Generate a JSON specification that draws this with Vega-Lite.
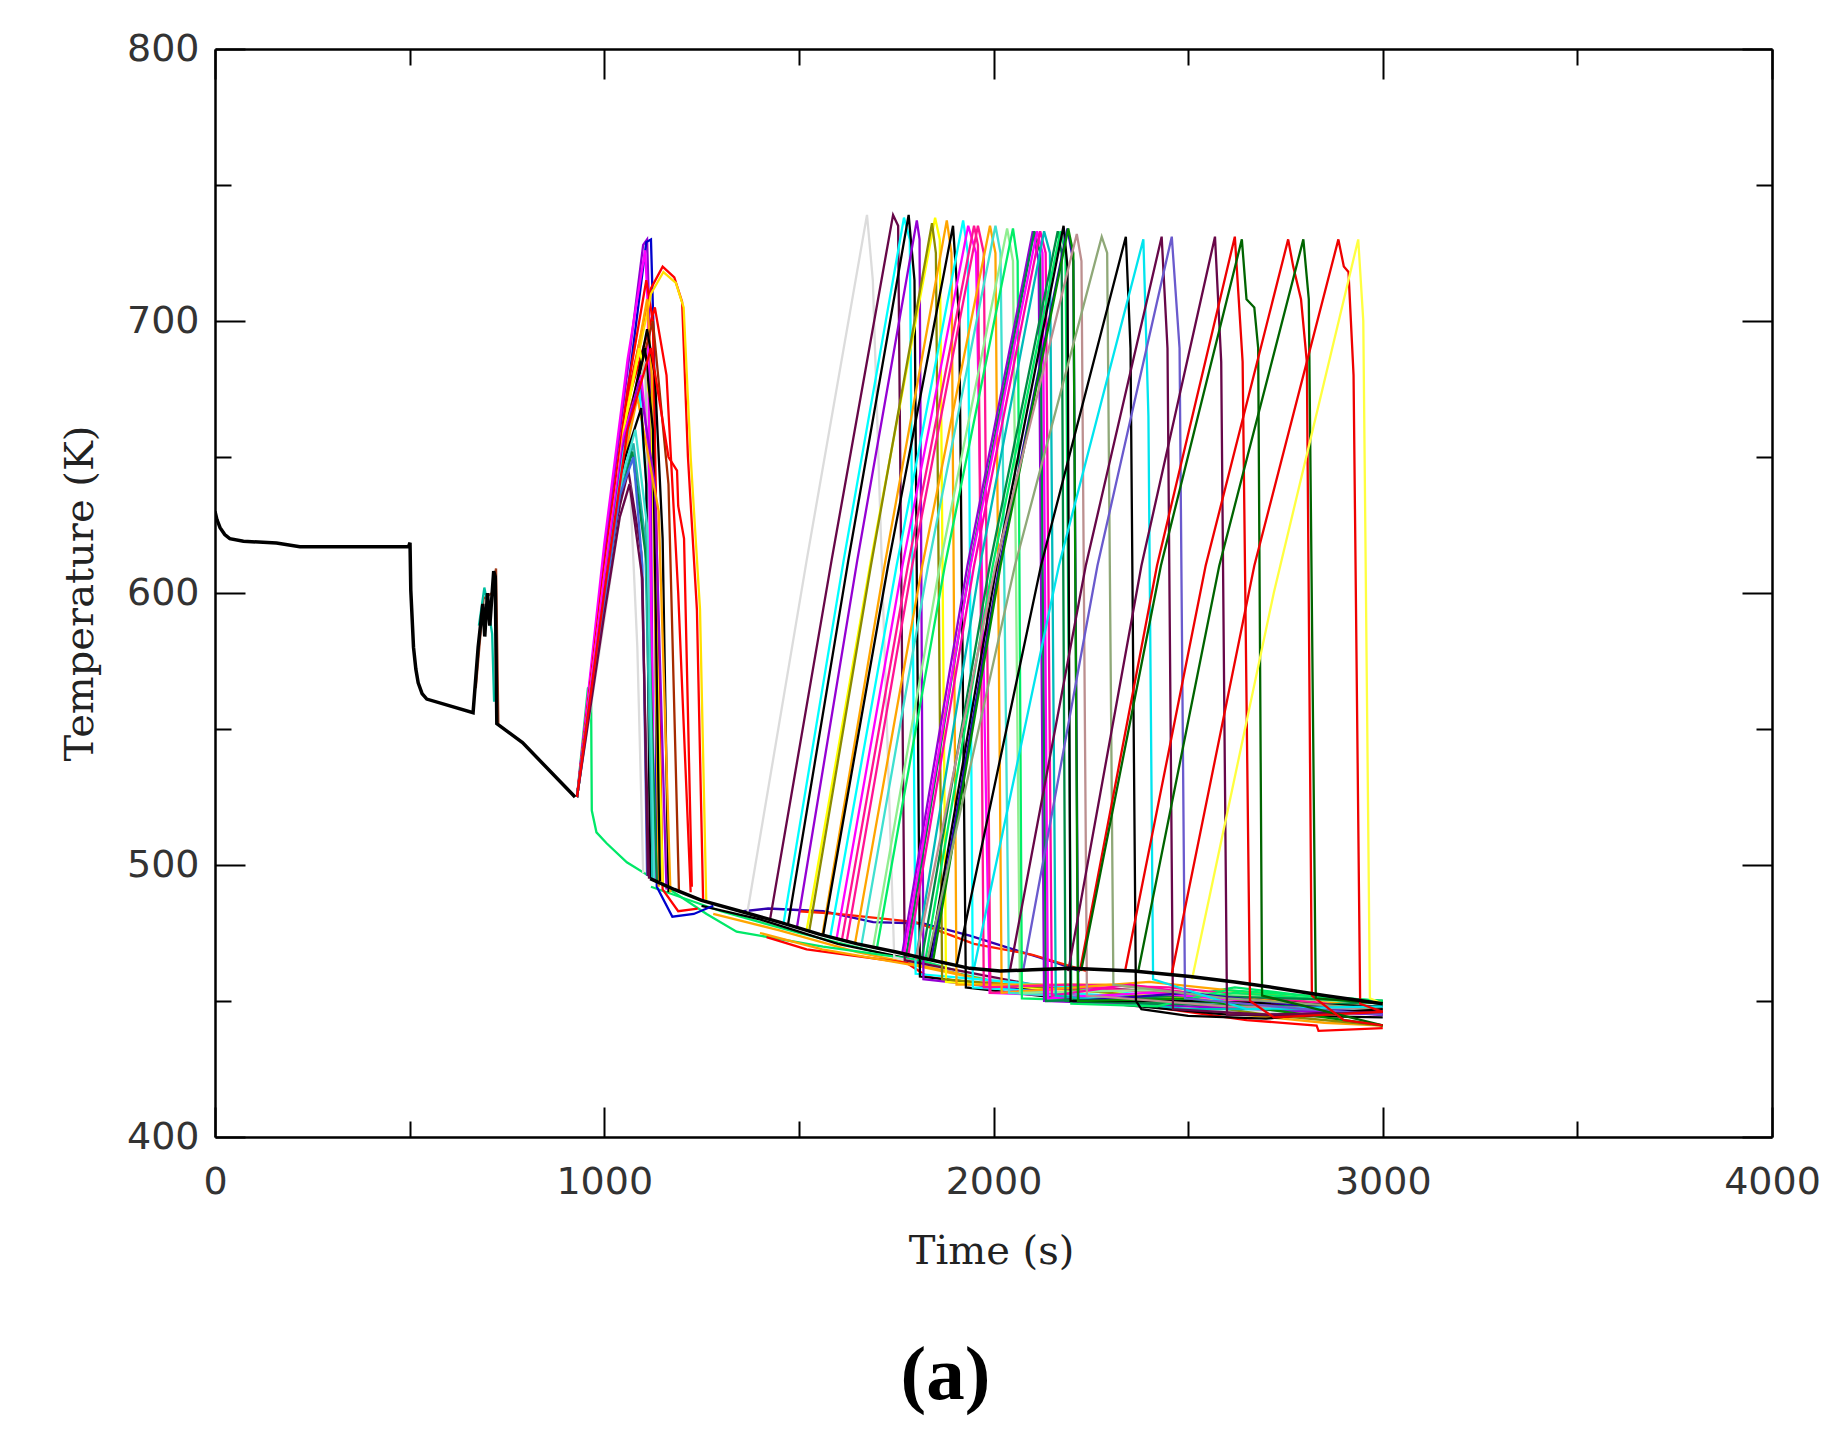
{
"$schema":"https://vega.github.io/schema/vega-lite/v6.json",
"width":1557,"height":1088,
"autosize":"none",
"padding":{"left":215,"top":49,"right":68,"bottom":307},
"background":"white",
"title":{"text":"(a)","orient":"bottom","anchor":"middle","dx":-48,"offset":67,"font":"Liberation Serif","fontWeight":"bold","fontSize":77,"color":"#000000"},
"config":{"view":{"stroke":null},"axis":{"grid":false,"domainColor":"#000000","domainWidth":2.5,"tickColor":"#000000","tickWidth":2,"labelFlush":false,"labelOverlap":false}},
"datasets":{
"frame":[{"t":0,"T":400}],
"base":[
{"s":"core","t":0,"T":630},{"s":"core","t":5,"T":627},{"s":"core","t":13,"T":624},{"s":"core","t":25,"T":621.5},{"s":"core","t":38,"T":620},{"s":"core","t":73,"T":619},{"s":"core","t":158,"T":618.4},{"s":"core","t":218,"T":617},{"s":"core","t":497,"T":617},{"s":"core","t":501,"T":618.5},{"s":"core","t":503,"T":601},{"s":"core","t":510,"T":580},{"s":"core","t":516,"T":572},{"s":"core","t":522,"T":567},{"s":"core","t":532,"T":563},{"s":"core","t":544,"T":561},{"s":"core","t":663,"T":556},{"s":"core","t":676,"T":580},{"s":"core","t":688,"T":596},{"s":"core","t":693,"T":584},{"s":"core","t":700,"T":600},{"s":"core","t":706,"T":588},{"s":"core","t":716,"T":608},{"s":"core","t":720,"T":606},{"s":"core","t":724,"T":552},{"s":"core","t":790,"T":545},{"s":"core","t":925,"T":525},
{"s":"top","t":1118,"T":495},{"s":"top","t":1180,"T":491},{"s":"top","t":1250,"T":487},{"s":"top","t":1350,"T":483},{"s":"top","t":1450,"T":479},{"s":"top","t":1554,"T":474.5},{"s":"top","t":1650,"T":471},{"s":"top","t":1750,"T":468},{"s":"top","t":1811,"T":466},{"s":"top","t":1939,"T":462},{"s":"top","t":2017,"T":461},{"s":"top","t":2100,"T":461.5},{"s":"top","t":2200,"T":462},{"s":"top","t":2360,"T":461},{"s":"top","t":2505,"T":459},{"s":"top","t":2620,"T":457},{"s":"top","t":2718,"T":455},{"s":"top","t":2850,"T":452},{"s":"top","t":3000,"T":449}
],
"runs":[
{"s":"p1","t":670,"T":565},{"s":"p1","t":690,"T":598},{"s":"p1","t":712,"T":600},{"s":"p1","t":722,"T":609},{"s":"p1","t":728,"T":552},
{"s":"p2","t":678,"T":588},{"s":"p2","t":692,"T":602},{"s":"p2","t":700,"T":596},{"s":"p2","t":712,"T":585},{"s":"p2","t":717,"T":560},
{"s":"b1","t":1120,"T":492},{"s":"b1","t":1300,"T":483},{"s":"b1","t":1500,"T":475},{"s":"b1","t":1700,"T":468},{"s":"b1","t":1900,"T":461},
{"s":"b2","t":1250,"T":485},{"s":"b2","t":1400,"T":480},{"s":"b2","t":1600,"T":471},{"s":"b2","t":1800,"T":465},{"s":"b2","t":1950,"T":459},
{"s":"b3","t":1280,"T":482},{"s":"b3","t":1450,"T":476},{"s":"b3","t":1650,"T":468},{"s":"b3","t":1850,"T":462},{"s":"b3","t":2000,"T":457},
{"s":"g1","t":930,"T":525},{"s":"g1","t":958,"T":565},{"s":"g1","t":966,"T":566},{"s":"g1","t":968,"T":520},{"s":"g1","t":980,"T":512},{"s":"g1","t":1006,"T":508},{"s":"g1","t":1058,"T":501},{"s":"g1","t":1126,"T":495},{"s":"g1","t":1263,"T":482},{"s":"g1","t":1340,"T":475.5},{"s":"g1","t":1562,"T":470},{"s":"g1","t":1811,"T":465},{"s":"g1","t":2150,"T":451},{"s":"g1","t":2280,"T":449},{"s":"g1","t":2400,"T":449},{"s":"g1","t":2500,"T":452},{"s":"g1","t":2620,"T":455},{"s":"g1","t":2800,"T":452},{"s":"g1","t":3000,"T":450},
{"s":"h1","t":1357,"T":483},{"s":"h1","t":1421,"T":484},{"s":"h1","t":1562,"T":483},{"s":"h1","t":1691,"T":479},{"s":"h1","t":1819,"T":478.5},{"s":"h1","t":1939,"T":474},{"s":"h1","t":2051,"T":469},{"s":"h1","t":2162,"T":464},{"s":"h1","t":2222,"T":461},
{"s":"h2","t":1500,"T":483},{"s":"h2","t":1600,"T":482},{"s":"h2","t":1800,"T":479},{"s":"h2","t":1950,"T":471},{"s":"h2","t":2100,"T":467},{"s":"h2","t":2240,"T":461},
{"s":"l1","t":1417,"T":473.5},{"s":"l1","t":1520,"T":469},{"s":"l1","t":1777,"T":464},{"s":"l1","t":1830,"T":459},{"s":"l1","t":2000,"T":455},{"s":"l1","t":2300,"T":450},{"s":"l1","t":2650,"T":443},{"s":"l1","t":2830,"T":441},{"s":"l1","t":2835,"T":439},{"s":"l1","t":3000,"T":440},
{"s":"l2","t":1400,"T":475},{"s":"l2","t":1560,"T":469},{"s":"l2","t":1800,"T":463},{"s":"l2","t":2100,"T":454},{"s":"l2","t":2500,"T":447},{"s":"l2","t":2850,"T":442},{"s":"l2","t":3000,"T":441},

{"s":"f01","t":930,"T":525},{"s":"f01","t":1000,"T":614},{"s":"f01","t":1060,"T":682},{"s":"f01","t":1100,"T":728},{"s":"f01","t":1110,"T":730},{"s":"f01","t":1116,"T":700},{"s":"f01","t":1128,"T":495},
{"s":"f02","t":930,"T":525},{"s":"f02","t":1000,"T":606},{"s":"f02","t":1060,"T":674},{"s":"f02","t":1108,"T":729},{"s":"f02","t":1120,"T":730},{"s":"f02","t":1128,"T":690},{"s":"f02","t":1135,"T":492},{"s":"f02","t":1175,"T":481},{"s":"f02","t":1230,"T":482},{"s":"f02","t":1280,"T":485},
{"s":"f03","t":930,"T":525},{"s":"f03","t":1000,"T":618},{"s":"f03","t":1060,"T":686},{"s":"f03","t":1105,"T":726},{"s":"f03","t":1112,"T":705},{"s":"f03","t":1125,"T":495},
{"s":"f04","t":930,"T":525},{"s":"f04","t":1000,"T":610},{"s":"f04","t":1060,"T":675},{"s":"f04","t":1108,"T":715},{"s":"f04","t":1125,"T":700},{"s":"f04","t":1150,"T":491},{"s":"f04","t":1190,"T":483},{"s":"f04","t":1240,"T":484},
{"s":"f05","t":930,"T":525},{"s":"f05","t":1000,"T":608},{"s":"f05","t":1060,"T":670},{"s":"f05","t":1130,"T":705},{"s":"f05","t":1160,"T":680},{"s":"f05","t":1190,"T":600},{"s":"f05","t":1222,"T":490},
{"s":"f06","t":930,"T":525},{"s":"f06","t":1000,"T":607},{"s":"f06","t":1060,"T":672},{"s":"f06","t":1120,"T":712},{"s":"f06","t":1150,"T":720},{"s":"f06","t":1180,"T":716},{"s":"f06","t":1200,"T":707},{"s":"f06","t":1215,"T":650},{"s":"f06","t":1238,"T":594},{"s":"f06","t":1254,"T":487},
{"s":"f07","t":930,"T":525},{"s":"f07","t":1000,"T":605},{"s":"f07","t":1060,"T":668},{"s":"f07","t":1120,"T":710},{"s":"f07","t":1152,"T":718},{"s":"f07","t":1184,"T":714},{"s":"f07","t":1204,"T":705},{"s":"f07","t":1222,"T":650},{"s":"f07","t":1246,"T":594},{"s":"f07","t":1262,"T":487},
{"s":"f08","t":930,"T":525},{"s":"f08","t":1000,"T":606},{"s":"f08","t":1060,"T":668},{"s":"f08","t":1110,"T":708},{"s":"f08","t":1122,"T":680},{"s":"f08","t":1140,"T":492},
{"s":"f09","t":930,"T":525},{"s":"f09","t":1000,"T":603},{"s":"f09","t":1060,"T":664},{"s":"f09","t":1125,"T":700},{"s":"f09","t":1165,"T":640},{"s":"f09","t":1192,"T":490},
{"s":"f10","t":930,"T":525},{"s":"f10","t":1000,"T":602},{"s":"f10","t":1060,"T":660},{"s":"f10","t":1110,"T":697},{"s":"f10","t":1130,"T":680},{"s":"f10","t":1150,"T":620},{"s":"f10","t":1165,"T":490},
{"s":"f11","t":930,"T":525},{"s":"f11","t":1000,"T":600},{"s":"f11","t":1050,"T":660},{"s":"f11","t":1090,"T":690},{"s":"f11","t":1120,"T":670},{"s":"f11","t":1150,"T":493},
{"s":"f12","t":930,"T":525},{"s":"f12","t":1000,"T":601},{"s":"f12","t":1060,"T":660},{"s":"f12","t":1105,"T":690},{"s":"f12","t":1125,"T":660},{"s":"f12","t":1143,"T":494},
{"s":"f13","t":930,"T":525},{"s":"f13","t":1000,"T":600},{"s":"f13","t":1060,"T":660},{"s":"f13","t":1105,"T":685},{"s":"f13","t":1112,"T":640},{"s":"f13","t":1120,"T":495},
{"s":"f14","t":930,"T":525},{"s":"f14","t":1000,"T":606},{"s":"f14","t":1050,"T":658},{"s":"f14","t":1095,"T":680},{"s":"f14","t":1115,"T":650},{"s":"f14","t":1130,"T":495},
{"s":"f15","t":930,"T":525},{"s":"f15","t":1000,"T":600},{"s":"f15","t":1050,"T":655},{"s":"f15","t":1090,"T":678},{"s":"f15","t":1130,"T":640},{"s":"f15","t":1160,"T":491},
{"s":"f16","t":930,"T":525},{"s":"f16","t":1000,"T":599},{"s":"f16","t":1050,"T":652},{"s":"f16","t":1090,"T":675},{"s":"f16","t":1108,"T":640},{"s":"f16","t":1120,"T":495},
{"s":"f17","t":930,"T":525},{"s":"f17","t":1000,"T":594},{"s":"f17","t":1050,"T":648},{"s":"f17","t":1085,"T":672},{"s":"f17","t":1140,"T":630},{"s":"f17","t":1170,"T":490},
{"s":"f18","t":930,"T":525},{"s":"f18","t":1000,"T":598},{"s":"f18","t":1050,"T":648},{"s":"f18","t":1095,"T":668},{"s":"f18","t":1108,"T":640},{"s":"f18","t":1118,"T":495},
{"s":"f19","t":930,"T":525},{"s":"f19","t":1000,"T":597},{"s":"f19","t":1040,"T":636},{"s":"f19","t":1075,"T":655},{"s":"f19","t":1105,"T":620},{"s":"f19","t":1125,"T":495},
{"s":"f20","t":930,"T":525},{"s":"f20","t":1000,"T":596},{"s":"f20","t":1040,"T":634},{"s":"f20","t":1072,"T":652},{"s":"f20","t":1110,"T":610},{"s":"f20","t":1135,"T":494},
{"s":"f21","t":930,"T":525},{"s":"f21","t":1000,"T":595},{"s":"f21","t":1040,"T":632},{"s":"f21","t":1062,"T":645},{"s":"f21","t":1095,"T":615},{"s":"f21","t":1115,"T":495},
{"s":"f22","t":930,"T":525},{"s":"f22","t":1000,"T":590},{"s":"f22","t":1040,"T":628},{"s":"f22","t":1066,"T":640},{"s":"f22","t":1085,"T":580},{"s":"f22","t":1100,"T":497},
{"s":"f23","t":930,"T":525},{"s":"f23","t":1000,"T":596},{"s":"f23","t":1045,"T":642},{"s":"f23","t":1080,"T":660},{"s":"f23","t":1110,"T":625},{"s":"f23","t":1128,"T":495},
{"s":"f24","t":930,"T":525},{"s":"f24","t":1000,"T":597},{"s":"f24","t":1040,"T":636},{"s":"f24","t":1075,"T":650},{"s":"f24","t":1098,"T":610},{"s":"f24","t":1110,"T":496},
{"s":"f25","t":930,"T":525},{"s":"f25","t":1000,"T":592},{"s":"f25","t":1040,"T":628},{"s":"f25","t":1065,"T":640},{"s":"f25","t":1098,"T":605},{"s":"f25","t":1112,"T":496},
{"s":"f26","t":930,"T":525},{"s":"f26","t":1000,"T":600},{"s":"f26","t":1060,"T":660},{"s":"f26","t":1120,"T":690},{"s":"f26","t":1165,"T":650},{"s":"f26","t":1187,"T":645},{"s":"f26","t":1190,"T":632},{"s":"f26","t":1205,"T":620},{"s":"f26","t":1225,"T":492},

{"s":"s01","t":1367,"T":482},{"s":"s01","t":1520,"T":612},{"s":"s01","t":1675,"T":739},{"s":"s01","t":1690,"T":715},{"s":"s01","t":1745,"T":466},{"s":"s01","t":2200,"T":452},{"s":"s01","t":2600,"T":446},{"s":"s01","t":3000,"T":446},
{"s":"s02","t":1426,"T":480},{"s":"s02","t":1584,"T":612},{"s":"s02","t":1742,"T":739},{"s":"s02","t":1755,"T":735},{"s":"s02","t":1772,"T":465},{"s":"s02","t":2100,"T":456},{"s":"s02","t":2500,"T":453},{"s":"s02","t":3000,"T":447},
{"s":"s03","t":1460,"T":478},{"s":"s03","t":1615,"T":612},{"s":"s03","t":1770,"T":738},{"s":"s03","t":1785,"T":730},{"s":"s03","t":1800,"T":460},{"s":"s03","t":2200,"T":455},{"s":"s03","t":2600,"T":449},{"s":"s03","t":3000,"T":448},
{"s":"s04","t":1472,"T":478},{"s":"s04","t":1627,"T":612},{"s":"s04","t":1782,"T":739},{"s":"s04","t":1797,"T":715},{"s":"s04","t":1811,"T":459},{"s":"s04","t":2000,"T":456},{"s":"s04","t":2200,"T":452},{"s":"s04","t":2700,"T":447},{"s":"s04","t":3000,"T":446},
{"s":"s05","t":1495,"T":477},{"s":"s05","t":1650,"T":612},{"s":"s05","t":1803,"T":737},{"s":"s05","t":1810,"T":730},{"s":"s05","t":1820,"T":458},{"s":"s05","t":2200,"T":452},{"s":"s05","t":2700,"T":447},{"s":"s05","t":3000,"T":445},
{"s":"s06","t":1520,"T":476},{"s":"s06","t":1685,"T":612},{"s":"s06","t":1850,"T":738},{"s":"s06","t":1862,"T":730},{"s":"s06","t":1878,"T":457},{"s":"s06","t":2200,"T":454},{"s":"s06","t":2500,"T":451},{"s":"s06","t":3000,"T":447},
{"s":"s07","t":1527,"T":476},{"s":"s07","t":1685,"T":610},{"s":"s07","t":1842,"T":736},{"s":"s07","t":1852,"T":725},{"s":"s07","t":1868,"T":458},{"s":"s07","t":2300,"T":453},{"s":"s07","t":2700,"T":445},{"s":"s07","t":3000,"T":441},
{"s":"s41","t":1560,"T":474},{"s":"s41","t":1720,"T":610},{"s":"s41","t":1880,"T":737},{"s":"s41","t":1892,"T":725},{"s":"s41","t":1905,"T":456},{"s":"s41","t":2300,"T":456},{"s":"s41","t":3000,"T":446},
{"s":"s08","t":1562,"T":474},{"s":"s08","t":1729,"T":610},{"s":"s08","t":1896,"T":735},{"s":"s08","t":1912,"T":700},{"s":"s08","t":1929,"T":455},{"s":"s08","t":2300,"T":449},{"s":"s08","t":2600,"T":445},{"s":"s08","t":3000,"T":444},
{"s":"s09","t":1580,"T":473},{"s":"s09","t":1751,"T":610},{"s":"s09","t":1922,"T":737},{"s":"s09","t":1934,"T":725},{"s":"s09","t":1947,"T":455},{"s":"s09","t":2300,"T":452},{"s":"s09","t":2700,"T":448},{"s":"s09","t":3000,"T":448},
{"s":"s10","t":1597,"T":473},{"s":"s10","t":1766,"T":610},{"s":"s10","t":1935,"T":735},{"s":"s10","t":1955,"T":725},{"s":"s10","t":1990,"T":453},{"s":"s10","t":2400,"T":451},{"s":"s10","t":3000,"T":445},
{"s":"s13","t":1610,"T":472},{"s":"s13","t":1780,"T":610},{"s":"s13","t":1950,"T":735},{"s":"s13","t":1960,"T":728},{"s":"s13","t":1975,"T":455},{"s":"s13","t":2200,"T":456},{"s":"s13","t":2450,"T":455},{"s":"s13","t":3000,"T":447},
{"s":"s11","t":1623,"T":472},{"s":"s11","t":1791,"T":610},{"s":"s11","t":1960,"T":735},{"s":"s11","t":1975,"T":725},{"s":"s11","t":1992,"T":453},{"s":"s11","t":2250,"T":455},{"s":"s11","t":2600,"T":451},{"s":"s11","t":3000,"T":446},
{"s":"s12","t":1644,"T":471},{"s":"s12","t":1817,"T":610},{"s":"s12","t":1991,"T":735},{"s":"s12","t":2005,"T":725},{"s":"s12","t":2021,"T":453},{"s":"s12","t":2400,"T":457},{"s":"s12","t":2800,"T":451},{"s":"s12","t":3000,"T":447},
{"s":"s40","t":1660,"T":470},{"s":"s40","t":1832,"T":610},{"s":"s40","t":2005,"T":735},{"s":"s40","t":2018,"T":725},{"s":"s40","t":2040,"T":453},{"s":"s40","t":2400,"T":450},{"s":"s40","t":3000,"T":448},
{"s":"s14","t":1690,"T":469},{"s":"s14","t":1862,"T":610},{"s":"s14","t":2035,"T":734},{"s":"s14","t":2050,"T":722},{"s":"s14","t":2068,"T":453},{"s":"s14","t":2400,"T":454},{"s":"s14","t":3000,"T":449},
{"s":"s15","t":1700,"T":469},{"s":"s15","t":1875,"T":610},{"s":"s15","t":2050,"T":734},{"s":"s15","t":2062,"T":722},{"s":"s15","t":2073,"T":451},{"s":"s15","t":2280,"T":450},{"s":"s15","t":2400,"T":449},{"s":"s15","t":2620,"T":453},{"s":"s15","t":3000,"T":449},
{"s":"s17","t":1765,"T":467},{"s":"s17","t":1933,"T":610},{"s":"s17","t":2101,"T":733},{"s":"s17","t":2116,"T":722},{"s":"s17","t":2130,"T":450},{"s":"s17","t":2500,"T":448},{"s":"s17","t":3000,"T":445},
{"s":"s18","t":1775,"T":466},{"s":"s18","t":1940,"T":610},{"s":"s18","t":2105,"T":733},{"s":"s18","t":2120,"T":725},{"s":"s18","t":2135,"T":450},{"s":"s18","t":2500,"T":452},{"s":"s18","t":3000,"T":450},
{"s":"s19","t":1770,"T":467},{"s":"s19","t":1941,"T":610},{"s":"s19","t":2112,"T":733},{"s":"s19","t":2126,"T":725},{"s":"s19","t":2140,"T":451},{"s":"s19","t":2400,"T":453},{"s":"s19","t":3000,"T":446},
{"s":"s20","t":1780,"T":466},{"s":"s20","t":1950,"T":610},{"s":"s20","t":2120,"T":733},{"s":"s20","t":2134,"T":725},{"s":"s20","t":2150,"T":452},{"s":"s20","t":2350,"T":456},{"s":"s20","t":2700,"T":449},{"s":"s20","t":3000,"T":446},
{"s":"s21","t":1800,"T":465},{"s":"s21","t":1965,"T":610},{"s":"s21","t":2130,"T":733},{"s":"s21","t":2145,"T":725},{"s":"s21","t":2160,"T":452},{"s":"s21","t":2500,"T":447},{"s":"s21","t":3000,"T":447},
{"s":"s22","t":1815,"T":465},{"s":"s22","t":1990,"T":610},{"s":"s22","t":2165,"T":733},{"s":"s22","t":2175,"T":725},{"s":"s22","t":2185,"T":450},{"s":"s22","t":2400,"T":449},{"s":"s22","t":2800,"T":448},{"s":"s22","t":3000,"T":450},
{"s":"s23","t":1825,"T":465},{"s":"s23","t":1998,"T":610},{"s":"s23","t":2172,"T":733},{"s":"s23","t":2185,"T":725},{"s":"s23","t":2200,"T":449},{"s":"s23","t":2420,"T":448},{"s":"s23","t":2600,"T":454},{"s":"s23","t":3000,"T":450},
{"s":"s24","t":1835,"T":465},{"s":"s24","t":2008,"T":610},{"s":"s24","t":2180,"T":735},{"s":"s24","t":2190,"T":720},{"s":"s24","t":2198,"T":450},{"s":"s24","t":2500,"T":450},{"s":"s24","t":3000,"T":448},
{"s":"s25","t":1840,"T":465},{"s":"s25","t":2015,"T":610},{"s":"s25","t":2190,"T":734},{"s":"s25","t":2205,"T":722},{"s":"s25","t":2218,"T":450},{"s":"s25","t":2500,"T":453},{"s":"s25","t":3000,"T":445},
{"s":"s26","t":1845,"T":465},{"s":"s26","t":2018,"T":610},{"s":"s26","t":2192,"T":734},{"s":"s26","t":2205,"T":725},{"s":"s26","t":2217,"T":450},{"s":"s26","t":2500,"T":451},{"s":"s26","t":3000,"T":441},
{"s":"s27","t":1800,"T":465},{"s":"s27","t":2005,"T":610},{"s":"s27","t":2214,"T":732},{"s":"s27","t":2226,"T":722},{"s":"s27","t":2240,"T":452},{"s":"s27","t":2600,"T":448},{"s":"s27","t":3000,"T":447},
{"s":"s28","t":1830,"T":465},{"s":"s28","t":2055,"T":610},{"s":"s28","t":2278,"T":731},{"s":"s28","t":2292,"T":725},{"s":"s28","t":2308,"T":456},{"s":"s28","t":2600,"T":451},{"s":"s28","t":3000,"T":447},
{"s":"s29","t":1905,"T":463},{"s":"s29","t":2122,"T":610},{"s":"s29","t":2340,"T":731},{"s":"s29","t":2352,"T":690},{"s":"s29","t":2366,"T":450},{"s":"s29","t":2380,"T":447},{"s":"s29","t":2500,"T":444.5},{"s":"s29","t":2700,"T":443.5},{"s":"s29","t":2800,"T":445},{"s":"s29","t":3000,"T":447},
{"s":"s30","t":1950,"T":462},{"s":"s30","t":2168,"T":610},{"s":"s30","t":2385,"T":730},{"s":"s30","t":2398,"T":665},{"s":"s30","t":2410,"T":458},{"s":"s30","t":2650,"T":447},{"s":"s30","t":3000,"T":448},
{"s":"s31","t":2042,"T":461},{"s":"s31","t":2237,"T":610},{"s":"s31","t":2432,"T":731},{"s":"s31","t":2447,"T":690},{"s":"s31","t":2461,"T":447},{"s":"s31","t":2700,"T":445},{"s":"s31","t":3000,"T":446},
{"s":"s32","t":2076,"T":461},{"s":"s32","t":2267,"T":610},{"s":"s32","t":2458,"T":731},{"s":"s32","t":2478,"T":690},{"s":"s32","t":2492,"T":451},{"s":"s32","t":2800,"T":447},{"s":"s32","t":3000,"T":445},
{"s":"s33","t":2192,"T":461},{"s":"s33","t":2380,"T":610},{"s":"s33","t":2569,"T":731},{"s":"s33","t":2585,"T":685},{"s":"s33","t":2600,"T":445},{"s":"s33","t":2800,"T":445},{"s":"s33","t":3000,"T":446},
{"s":"s34","t":2222,"T":461},{"s":"s34","t":2420,"T":610},{"s":"s34","t":2620,"T":731},{"s":"s34","t":2640,"T":685},{"s":"s34","t":2659,"T":450},{"s":"s34","t":2720,"T":444},{"s":"s34","t":3000,"T":446},
{"s":"s35","t":2225,"T":461},{"s":"s35","t":2430,"T":610},{"s":"s35","t":2638,"T":730},{"s":"s35","t":2650,"T":708},{"s":"s35","t":2670,"T":705},{"s":"s35","t":2680,"T":690},{"s":"s35","t":2690,"T":452},{"s":"s35","t":3000,"T":441},
{"s":"s36","t":2338,"T":461},{"s":"s36","t":2545,"T":610},{"s":"s36","t":2757,"T":730},{"s":"s36","t":2770,"T":720},{"s":"s36","t":2790,"T":708},{"s":"s36","t":2805,"T":685},{"s":"s36","t":2818,"T":452},{"s":"s36","t":2900,"T":443},{"s":"s36","t":3000,"T":441},
{"s":"s37","t":2372,"T":461},{"s":"s37","t":2580,"T":610},{"s":"s37","t":2796,"T":730},{"s":"s37","t":2810,"T":708},{"s":"s37","t":2828,"T":451},{"s":"s37","t":3000,"T":449},
{"s":"s38","t":2458,"T":460},{"s":"s38","t":2670,"T":610},{"s":"s38","t":2886,"T":730},{"s":"s38","t":2900,"T":720},{"s":"s38","t":2912,"T":718},{"s":"s38","t":2925,"T":680},{"s":"s38","t":2942,"T":449},{"s":"s38","t":3000,"T":446},
{"s":"s39","t":2510,"T":458},{"s":"s39","t":2720,"T":600},{"s":"s39","t":2937,"T":730},{"s":"s39","t":2950,"T":700},{"s":"s39","t":2967,"T":451},{"s":"s39","t":3000,"T":449}
]
},
"encoding":{"x":{"field":"t","type":"quantitative","scale":{"domain":[0,4000],"nice":false}},"y":{"field":"T","type":"quantitative","scale":{"domain":[400,800],"nice":false}}},
"layer":[
{"data":{"name":"runs"},
"mark":{"type":"line","strokeWidth":2.3,"clip":true},
"encoding":{
"x":{"field":"t","type":"quantitative","scale":{"domain":[0,4000],"nice":false},"axis":{"orient":"bottom","title":"Time (s)","values":[0,1000,2000,3000,4000],"format":"d","tickSize":-30,"labelPadding":56,"labelFont":"DejaVu Sans","labelFontSize":38,"labelColor":"#333333","titleFont":"DejaVu Serif","titleFontSize":40,"titleFontWeight":"normal","titleColor":"#222222","titleY":94,"titleX":776}},
"y":{"field":"T","type":"quantitative","scale":{"domain":[400,800],"nice":false},"axis":{"orient":"left","title":"Temperature (K)","values":[400,500,600,700,800],"format":"d","tickSize":-30,"labelPadding":46,"labelFont":"DejaVu Sans","labelFontSize":38,"labelColor":"#333333","titleFont":"DejaVu Serif","titleFontSize":40,"titleFontWeight":"normal","titleColor":"#222222","titleX":-115}},
"detail":{"field":"s"},
"color":{"field":"s","type":"nominal","legend":null,"scale":{
"domain":["p1","p2","b1","b2","b3","f01","f02","f03","f04","f05","f06","f07","f08","f09","f10","f11","f12","f13","f14","f15","f16","f17","f18","f19","f20","f21","f22","f23","f24","f25","f26","g1","h1","h2","l1","l2","s01","s02","s03","s04","s05","s06","s07","s41","s08","s09","s10","s13","s11","s12","s40","s14","s15","s17","s18","s19","s20","s21","s22","s23","s24","s25","s26","s27","s28","s29","s30","s31","s32","s33","s34","s35","s36","s37","s38","s39"],
"range":["#a04020","#00bfa0","#00e868","#000000","#ffa500","#9400d3","#0000cd","#ff00ff","#ff0000","#ff0000","#ff0000","#ffe000","#ffa500","#a52a00","#000000","#ffff00","#000000","#bebebe","#ff00ff","#9400d3","#00ffff","#ffa500","#000000","#20b2aa","#008b45","#670748","#dcdcdc","#40e0d0","#4169e1","#670748","#ff0000","#00e868","#3000b0","#ff2000","#ff0000","#ffa500","#dcdcdc","#670748","#00ffff","#000000","#9400d3","#ffff00","#8b8b00","#ffa500","#000000","#00ffff","#ff00ff","#ff1493","#ff1493","#ffa500","#40e0d0","#90ee90","#00ee66","#9400d3","#008b45","#ff00ff","#ff00aa","#00bbbb","#008b45","#00ee66","#000000","#3000b0","#008b00","#bc8f8f","#8fa878","#000000","#00e5ee","#670748","#6a5acd","#670748","#ee0000","#006400","#ee0000","#006400","#ee0000","#ffff40"]
}}
}},
{"data":{"name":"base"},
"mark":{"type":"line","strokeWidth":3.5,"color":"#000000","clip":true},
"encoding":{"x":{"field":"t","type":"quantitative","axis":{"orient":"bottom","domain":false,"ticks":false,"labels":false,"title":null}},"y":{"field":"T","type":"quantitative","axis":{"orient":"left","domain":false,"ticks":false,"labels":false,"title":null}},"detail":{"field":"s"}}},
{"data":{"name":"frame"},"mark":{"type":"point","opacity":0},
"encoding":{"x":{"field":"t","type":"quantitative","axis":{"orient":"bottom","values":[500,1500,2500,3500],"tickSize":-16,"labels":false,"domain":false,"title":null}},"y":{"field":"T","type":"quantitative","axis":{"orient":"left","values":[450,550,650,750],"tickSize":-16,"labels":false,"domain":false,"title":null}}}},
{"data":{"name":"frame"},"mark":{"type":"point","opacity":0},
"encoding":{"x":{"field":"t","type":"quantitative","axis":{"orient":"top","values":[0,1000,2000,3000,4000],"tickSize":-30,"labels":false,"title":null}},"y":{"field":"T","type":"quantitative","axis":{"orient":"right","values":[400,500,600,700,800],"tickSize":-30,"labels":false,"title":null}}}},
{"data":{"name":"frame"},"mark":{"type":"point","opacity":0},
"encoding":{"x":{"field":"t","type":"quantitative","axis":{"orient":"top","values":[500,1500,2500,3500],"tickSize":-16,"labels":false,"domain":false,"title":null}},"y":{"field":"T","type":"quantitative","axis":{"orient":"right","values":[450,550,650,750],"tickSize":-16,"labels":false,"domain":false,"title":null}}}}
],
"resolve":{"axis":{"x":"independent","y":"independent"}}
}
